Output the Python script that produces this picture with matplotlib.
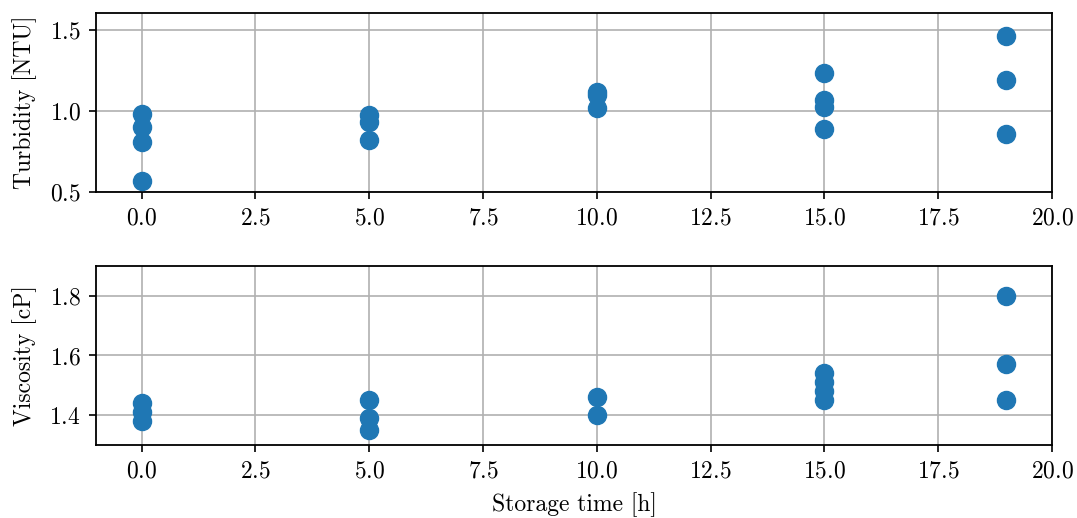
import matplotlib

matplotlib.use("Agg")
import matplotlib.pyplot as plt

turb_time = [0, 0, 0, 0, 5, 5, 5, 10, 10, 10, 15, 15, 15, 15, 19, 19, 19]
turbidity = [0.98, 0.90, 0.81, 0.57, 0.975, 0.93, 0.82, 1.12, 1.10, 1.02,
             1.235, 1.065, 1.025, 0.89, 1.465, 1.19, 0.86]

visc_time = [0, 0, 0, 5, 5, 5, 10, 10, 15, 15, 15, 15, 19, 19, 19]
viscosity = [1.44, 1.41, 1.38, 1.45, 1.39, 1.35, 1.46, 1.40,
             1.54, 1.51, 1.48, 1.45, 1.80, 1.57, 1.45]

plt.rcParams["font.family"] = ["cmr10", "DejaVu Serif"]
plt.rcParams["mathtext.fontset"] = "cm"
plt.rcParams["axes.formatter.use_mathtext"] = True
plt.rcParams["font.size"] = 17

fig = plt.figure(figsize=(10.77, 5.18), dpi=100)
W, H = 1077, 518
ax1 = fig.add_axes([96 / W, 1 - 192 / H, (1052 - 96) / W, (192 - 13) / H])
ax2 = fig.add_axes([96 / W, 1 - 445 / H, (1052 - 96) / W, (445 - 266) / H])

color = "#1f77b4"
ax1.plot(turb_time, turbidity, "o", color=color, markersize=13, zorder=3)
ax2.plot(visc_time, viscosity, "o", color=color, markersize=13, zorder=3)

for ax in (ax1, ax2):
    ax.set_xlim(-1, 20)
    ax.set_xticks([0, 2.5, 5, 7.5, 10, 12.5, 15, 17.5, 20])
    ax.grid(True, color="#b0b0b0", linewidth=1.2)
    ax.set_axisbelow(True)
    ax.tick_params(length=5, width=1.2, pad=6)
    for s in ax.spines.values():
        s.set_linewidth(1.3)

ax1.set_ylim(0.5, 1.605)
ax1.set_yticks([0.5, 1.0, 1.5])
ax1.set_ylabel("Turbidity [NTU]", labelpad=9)

ax2.set_ylim(1.3, 1.9)
ax2.set_yticks([1.4, 1.6, 1.8])
ax2.set_ylabel("Viscosity [cP]", labelpad=9)
ax2.set_xlabel("Storage time [h]", labelpad=7)

fig.savefig("out.png", dpi=100)
